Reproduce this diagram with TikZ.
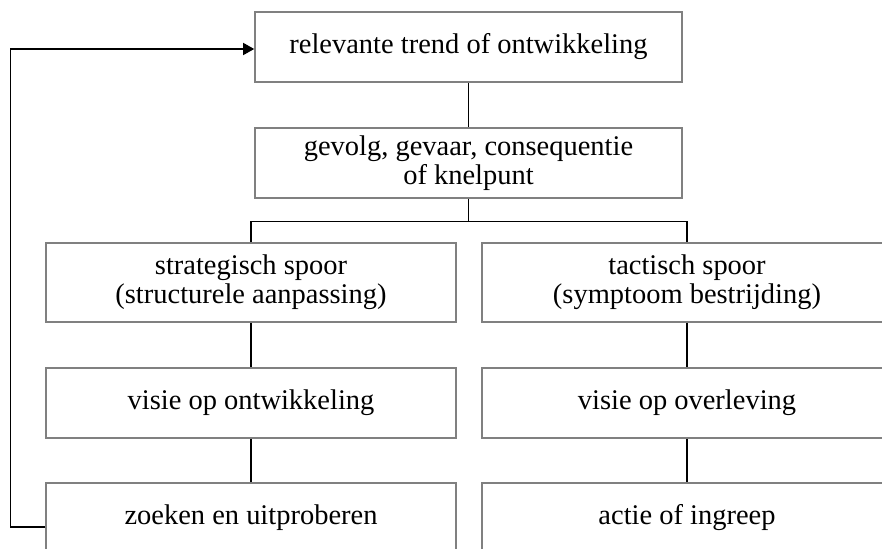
\documentclass[tikz,border=0pt]{standalone}
\usepackage{fontspec}
\setmainfont{Liberation Serif}
\usepackage{xcolor}
\usepackage{tikz}
\usetikzlibrary{arrows.meta,positioning,calc}

\begin{document}
\begin{tikzpicture}[
    box/.style={rectangle, draw=black!50, line width=0.9pt, align=center,
                minimum width=8.2cm, minimum height=1.4cm, inner sep=2pt,
                font=\fontsize{16.2}{16.4}\selectfont},
    wide/.style={box, minimum width=8.54cm},
    link/.style={draw, line width=0.8pt},
    arr/.style={link, -{Triangle[length=0.22cm, width=0.24cm]}},
  ]

  \clip (0,0) rectangle (17.64,10.96);

  % Trend
  \node[wide] (trend) at (9.37, 10.02) {relevante trend of ontwikkeling};

  % Gevolg
  \node[wide] (gevolg) at (9.37, 7.70) {gevolg, gevaar, consequentie\\of knelpunt};

  % Strategisch spoor (links)
  \node[box, minimum height=1.58cm] (strat) at (5.02, 5.31) {strategisch spoor\\(structurele aanpassing)};
  \node[box] (vontw) at (5.02, 2.90) {visie op ontwikkeling};
  \node[box] (zoek) at (5.02, 0.60) {zoeken en uitproberen};

  % Tactisch spoor (rechts)
  \node[box, minimum height=1.58cm] (tact) at (13.74, 5.31) {tactisch spoor\\(symptoom bestrijding)};
  \node[box] (vover) at (13.74, 2.90) {visie op overleving};
  \node[box] (actie) at (13.74, 0.60) {actie of ingreep};

  % Lines
  \draw[link] (trend) -- (gevolg);
  \draw[link] (gevolg.south) -- ++(0,-0.46) -| (strat.north);
  \draw[link] (gevolg.south) -- ++(0,-0.46) -| (tact.north);

  \draw[link] (strat) -- (vontw);
  \draw[link] (vontw) -- (zoek);
  \draw[link] (tact) -- (vover);
  \draw[link] (vover) -- (actie);

  % Feedback
  \draw[arr] ([yshift=-0.18cm]zoek.west) -- ++(-0.70,0) |- ([yshift=-0.04cm]trend.west);

\end{tikzpicture}
\end{document}
